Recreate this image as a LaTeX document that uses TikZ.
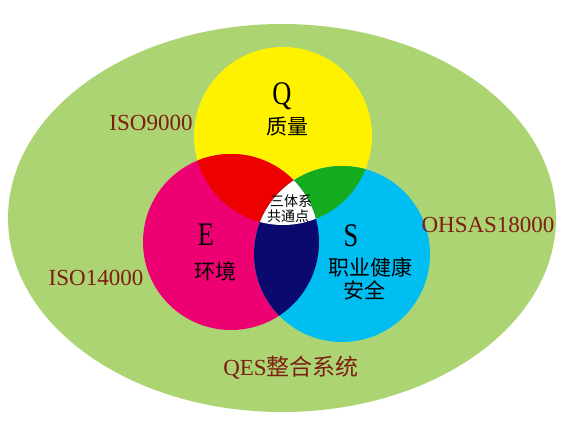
\documentclass[tikz,border=0pt]{standalone}
\usepackage{xcolor}
\usepackage{tikz}
\usepackage{fontspec}
\setmainfont{Liberation Serif}
\newfontfamily\cjk{Noto Sans CJK SC}
\newfontfamily\letterfont[FakeStretch=0.8]{Liberation Serif}
\usetikzlibrary{positioning}

\definecolor{outergreen}{RGB}{172,212,115}
\definecolor{qyellow}{RGB}{255,242,0}
\definecolor{emagenta}{RGB}{237,0,114}
\definecolor{scyan}{RGB}{0,190,242}
\definecolor{qered}{RGB}{237,0,0}
\definecolor{qsgreen}{RGB}{20,172,30}
\definecolor{esblue}{RGB}{10,10,110}
\definecolor{labelred}{RGB}{125,30,18}

\begin{document}
\begin{tikzpicture}[x=1pt,y=-1pt,
    stdlabel/.style={text=labelred,inner sep=0pt,font=\fontsize{23}{23}\selectfont},
    letter/.style={anchor=base,inner sep=0pt,font=\letterfont\fontsize{33}{33}\selectfont},
    cjklabel/.style={inner sep=0pt,font=\cjk\fontsize{21}{21}\selectfont},
    corelabel/.style={inner sep=0pt,font=\cjk\fontsize{14}{14}\selectfont}]
    \useasboundingbox (0,0) rectangle (567,425);
    % Mittelpunkte der Kreise
    \coordinate (cQ) at (283,136);
    \coordinate (cE) at (231,242);
    \coordinate (cS) at (342,254);
    % QES Gesamtsystem
    \fill[outergreen] (282,218) ellipse [x radius=274, y radius=194];
    % Kreise
    \fill[qyellow] (cQ) circle (89);
    \fill[emagenta] (cE) circle (88);
    \fill[scyan] (cS) circle (88);
    % Schnittmengen
    \begin{scope}
        \clip (cQ) circle (89);
        \fill[qered] (cE) circle (88);
        \fill[qsgreen] (cS) circle (88);
    \end{scope}
    \begin{scope}
        \clip (cE) circle (88);
        \fill[esblue] (cS) circle (88);
    \end{scope}
    \begin{scope}
        \clip (cQ) circle (89);
        \clip (cE) circle (88);
        \fill[white] (cS) circle (88);
    \end{scope}
    % Normen
    \node[stdlabel] (iso9000) at (151,123) {ISO9000};
    \node[stdlabel] (iso14000) at (96,278) {ISO14000};
    \node[stdlabel] (ohsas) at (488,225) {OHSAS18000};
    \node[stdlabel] (qes) at (291,368) {QES{\cjk 整合系统}};
    % Q
    \node[letter] (Q) at (282,105) {Q};
    \node[cjklabel] (quality) at (287,127) {质量};
    % E
    \node[letter] (E) at (206,245) {E};
    \node[cjklabel] (environment) at (215,271) {环境};
    % S
    \node[letter] (S) at (351,246) {S};
    \node[cjklabel] (ohs) at (370,267) {职业健康};
    \node[cjklabel,below=3pt of ohs,xshift=-6pt] (safety) {安全};
    % gemeinsamer Kern
    \node[corelabel] (core1) at (291,201) {三体系};
    \node[corelabel,below=2pt of core1,xshift=-3pt] (core2) {共通点};
\end{tikzpicture}
\end{document}
